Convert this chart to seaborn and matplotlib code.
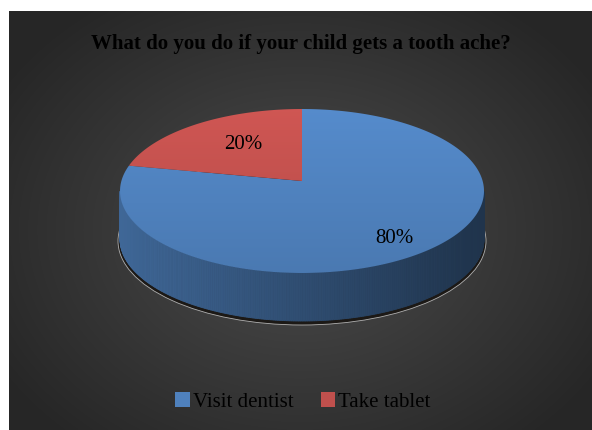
import numpy as np
import matplotlib
matplotlib.use("Agg")
import matplotlib.pyplot as plt
from matplotlib.patches import Polygon, Ellipse, Patch
from matplotlib.colors import to_rgb
import seaborn as sns

sns.set_style("white")
plt.rcParams['font.family'] = ['Liberation Serif', 'DejaVu Serif']

# data
labels = ["Visit dentist", "Take tablet"]
values = [80, 20]
colors = ["#4f81bd", "#c0504d"]
title = "What do you do if your child gets a tooth ache?"

# pie geometry in pixels
cx, cy = 302, 191
rx, ry = 182, 82
apex_y = 181          # fake perspective: the slice tip sits a bit behind centre
depth = 48
label_r = [0.86, 0.55]

W, H = 592, 430
fig = plt.figure(figsize=(W / 100, H / 100), dpi=100)
ax = fig.add_axes([0, 0, 1, 1])
ax.set_xlim(0, W)
ax.set_ylim(H, 0)
ax.axis('off')

# radial gradient background
gx, gy = np.meshgrid(np.linspace(9, W, 300), np.linspace(11, H, 220))
d = np.sqrt(((gx - 300) / 330) ** 2 + ((gy - 230) / 260) ** 2)
g = np.clip(0.30 - 0.14 * d, 0.15, 0.30)
bg = np.dstack([g, g, g])
ax.imshow(bg, extent=(9, W, H, 11), aspect='auto', zorder=0, interpolation='bilinear')


def pt(theta, dy=0):
    t = np.radians(theta)
    return cx + rx * np.cos(t), cy - ry * np.sin(t) + dy


# shadow under pie
sh = Ellipse((cx, cy + depth + 2), 2 * rx + 4, 2 * ry + 4, facecolor='#1c1916',
             edgecolor='#b0b0b0', lw=0.6, zorder=1)
ax.add_patch(sh)

# wedge angles, clockwise from 12 o'clock
total = sum(values)
spans = []
start = 90.0
for v in values:
    end = start - v / total * 360
    spans.append((end, start))
    start = end

# side walls (front half only)
for (a0, a1), c in zip(spans, colors):
    base = np.array(to_rgb(c))
    th = np.linspace(a0, a1, 400)
    for t0, t1 in zip(th[:-1], th[1:]):
        tm = np.radians((t0 + t1) / 2)
        if np.sin(tm) > 0:
            continue
        f = 0.6 - 0.2 * np.cos(tm)
        x0, y0 = pt(t0)
        x1, y1 = pt(t1)
        poly = Polygon([(x0, y0), (x1, y1), (x1, y1 + depth), (x0, y0 + depth)],
                       closed=True, facecolor=base * f, edgecolor=base * f, lw=0.6, zorder=2)
        ax.add_patch(poly)

# top faces with vertical gradient
for (a0, a1), c in zip(spans, colors):
    base = np.array(to_rgb(c))
    th = np.linspace(a0, a1, 200)
    xs, ys = pt(th)
    verts = [(cx, apex_y)] + list(zip(xs, ys))
    poly = Polygon(verts, closed=True, facecolor='none', edgecolor='none', zorder=3)
    ax.add_patch(poly)
    s = np.linspace(1.08, 0.94, 100)[:, None]
    img = np.clip(base[None, None, :] * s[:, :, None], 0, 1)
    im = ax.imshow(img, extent=(cx - rx, cx + rx, cy + ry, cy - ry), aspect='auto',
                   zorder=3, interpolation='bilinear')
    im.set_clip_path(poly)

# percent labels
for (a0, a1), v, r in zip(spans, values, label_r):
    tm = np.radians((a0 + a1) / 2)
    lx = cx + r * rx * np.cos(tm)
    ly = apex_y - r * ry * np.sin(tm)
    ax.text(lx, ly, f"{v / total:.0%}", ha='center', va='center', fontsize=15,
            color='black', zorder=5)

ax.text(301, 44, title, ha='center', va='center', fontsize=15, fontweight='bold',
        color='black', zorder=5)

handles = [Patch(facecolor=c, edgecolor='none') for c in colors]
ax.legend(handles, labels, loc='center', bbox_to_anchor=(303 / W, 1 - 402 / H),
          ncol=2, frameon=False, fontsize=15, handlelength=0.7, handleheight=0.7,
          handletextpad=0.15, columnspacing=1.3, labelcolor='black')

fig.savefig("out.png", dpi=100)
